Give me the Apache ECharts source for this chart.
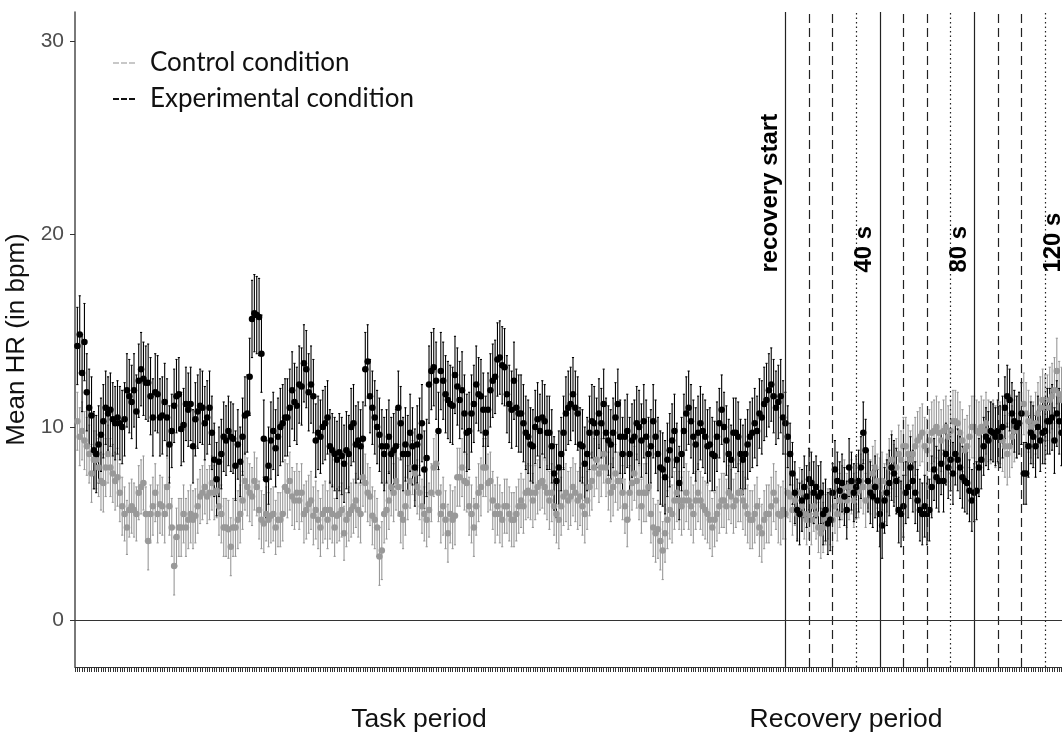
<!DOCTYPE html>
<html><head><meta charset="utf-8">
<script src="https://cdn.jsdelivr.net/npm/echarts@6/dist/echarts.min.js"></script>
<style>html,body{margin:0;padding:0;background:#fff}#c{width:1062px;height:738px}</style>
</head><body><div id="c"></div>
<script>
// Mean HR per second (index 0..299 task period, 300.. recovery period)
const expMean = [
14.2,14.8,12.8,14.4,11.8,11.0,10.6,8.8,8.6,9.1,
9.6,10.3,11.0,10.7,10.9,10.4,10.2,10.5,10.2,10.0,
10.4,11.9,11.6,11.3,11.9,10.8,12.4,13.0,12.5,12.3,
12.3,11.6,10.5,11.8,11.7,10.5,10.6,11.3,10.5,9.1,
9.8,11.1,11.6,11.7,9.9,10.1,11.2,10.9,11.2,9.0,
10.4,10.8,11.1,11.0,10.2,10.5,11.0,9.7,8.3,7.3,
8.2,8.6,9.5,9.3,9.8,9.5,9.4,8.0,9.1,8.2,
9.5,10.6,10.7,12.6,15.6,15.9,15.8,15.7,13.8,9.4,
7.3,8.0,9.3,9.8,8.9,9.5,10.0,10.2,10.5,10.5,
11.0,11.9,11.3,11.1,12.2,12.1,13.3,13.0,11.8,12.2,
11.6,9.3,9.7,9.5,10.0,10.2,10.5,9.0,8.8,8.6,
8.3,8.7,8.5,8.1,8.8,8.6,10.0,10.2,9.1,9.3,
9.0,9.4,13.0,13.4,11.6,11.0,10.5,10.0,9.6,9.0,
8.6,9.0,9.5,8.6,8.8,9.0,11.0,10.2,8.6,9.1,
8.6,9.7,9.0,7.9,9.1,9.5,10.2,7.8,8.4,12.2,
12.9,13.1,12.4,9.8,12.9,12.4,11.7,11.4,11.2,11.1,
12.7,12.1,11.4,11.9,10.7,9.7,9.8,10.7,11.2,12.2,
11.7,11.6,10.9,9.7,10.9,11.9,12.4,12.6,13.5,13.6,
13.2,13.1,11.7,11.2,10.9,12.4,11.0,10.7,10.7,10.2,
9.7,9.5,9.1,9.0,10.0,10.4,9.8,10.5,10.3,9.7,
9.7,9.0,7.6,7.2,7.9,8.6,9.7,10.7,11.0,11.2,
11.7,11.0,10.7,9.1,9.0,8.1,8.6,9.7,10.3,10.2,
9.7,10.7,10.2,11.2,9.7,9.3,9.1,9.7,10.5,11.2,
9.5,8.6,9.5,9.8,8.6,9.3,9.5,10.2,10.0,9.3,
10.3,9.5,8.6,9.0,10.3,9.5,8.6,7.9,7.8,7.4,
8.3,8.8,9.3,9.8,8.3,7.1,8.6,9.8,10.7,11.0,
10.3,9.5,9.1,9.7,10.2,9.8,9.5,9.0,9.1,8.6,
8.5,9.5,10.2,10.9,10.0,9.3,8.6,8.3,9.7,9.7,
9.5,8.6,8.3,8.6,9.1,9.5,9.7,10.2,9.8,10.7,
10.5,11.2,11.4,11.9,12.2,11.6,11.0,11.3,11.6,10.5,
10.2,9.5,8.6,7.6,6.6,5.7,5.5,6.2,6.9,6.4,
7.3,7.1,6.6,6.9,6.4,6.6,5.5,5.7,5.0,5.2,
6.6,7.8,7.2,6.7,7.1,6.4,5.7,7.9,7.2,6.6,
6.9,7.2,7.9,9.7,8.8,7.2,6.6,6.4,6.9,6.2,
5.5,4.9,6.2,6.6,7.1,7.9,7.6,7.2,5.7,5.5,
5.9,6.6,6.9,7.9,7.2,6.6,6.2,5.7,5.5,5.9,
5.5,5.7,6.9,7.8,7.4,7.2,8.1,7.2,8.6,7.9,
8.3,7.6,8.6,8.3,7.9,7.4,7.2,7.1,6.7,6.2,
6.6,6.7,7.9,8.3,9.0,9.5,9.3,9.8,9.7,9.5,
9.8,9.5,10.0,11.0,11.6,11.4,10.7,10.3,10.0,10.2,
10.7,7.6,7.6,9.0,9.7,9.5,9.0,10.0,9.3,9.7,
9.8,10.3,10.3,10.5,9.3,10.7,10.3,9.7,10.7
];
const ctrlMean = [
10.3,9.5,9.8,9.3,9.0,8.6,7.6,8.3,8.3,7.9,
7.2,7.1,7.9,8.6,7.9,7.6,7.2,7.4,6.6,5.9,
5.5,4.8,5.7,5.9,5.7,5.5,6.6,6.9,7.1,5.5,
4.1,5.5,5.9,6.6,5.5,6.0,5.9,5.5,6.9,5.9,
4.8,2.8,4.3,4.8,4.8,5.5,4.8,5.2,5.5,5.2,
5.4,5.9,6.4,6.6,6.9,6.4,6.6,7.1,6.6,6.7,
5.9,5.5,4.8,4.8,4.7,3.8,4.8,4.8,5.2,5.5,
6.2,7.2,6.9,6.6,6.4,7.2,6.9,5.7,5.2,5.0,
5.5,5.2,5.4,5.5,4.8,5.2,5.2,5.5,6.9,6.7,
7.2,6.4,6.2,6.6,6.2,6.6,5.5,5.7,6.0,6.2,
5.4,5.7,5.2,4.8,5.5,5.7,5.2,5.7,5.5,4.8,
5.4,5.5,5.7,4.5,5.2,5.5,5.7,5.9,6.2,5.7,
5.5,7.4,7.1,6.6,6.4,5.4,5.2,4.8,3.3,3.6,
5.5,5.7,6.2,6.9,6.6,7.2,6.9,5.5,5.2,5.9,
6.6,7.2,7.9,7.6,6.9,6.6,5.9,5.5,5.2,5.7,
6.6,7.9,8.1,6.6,5.5,5.9,5.2,4.5,5.5,5.2,
5.4,7.4,7.4,7.9,7.2,7.1,5.9,5.5,4.8,5.9,
6.6,6.9,7.9,7.9,7.1,7.2,6.2,5.5,5.9,5.5,
5.2,5.9,5.9,5.5,5.2,5.2,5.5,5.9,6.2,5.9,
6.6,6.7,6.6,6.2,6.6,6.9,7.1,7.2,6.9,6.6,
6.2,6.6,5.9,5.5,5.2,5.9,6.4,6.6,6.2,6.4,
6.9,6.6,6.2,6.4,5.9,5.5,6.2,6.9,7.2,7.9,
8.3,7.6,7.9,8.6,7.9,7.2,6.6,6.9,7.6,7.2,
7.2,6.6,5.9,5.2,6.6,7.1,7.6,7.2,6.6,5.9,
6.6,6.6,6.9,5.5,4.8,4.5,4.7,4.1,3.6,4.5,
5.2,5.7,5.5,6.2,6.6,6.2,5.9,6.2,6.6,6.2,
5.9,5.5,6.2,6.6,6.2,5.9,5.7,5.5,5.2,4.8,
5.2,5.5,5.9,6.2,6.2,5.9,6.6,6.4,5.9,6.2,
6.6,6.6,6.2,5.9,5.5,5.2,5.2,5.5,5.9,4.8,
4.5,5.2,5.5,5.5,5.9,6.6,6.2,5.5,5.4,5.7,
5.5,6.6,6.4,5.7,6.2,5.5,6.6,5.9,5.5,5.2,
5.5,5.2,5.9,5.5,4.8,4.5,4.8,5.2,5.5,5.2,
5.2,5.9,5.5,6.2,6.6,6.9,6.2,6.6,6.9,6.2,
6.6,6.7,7.2,6.9,6.2,7.2,6.9,7.6,7.9,7.2,
6.9,7.2,6.6,7.1,7.9,8.3,7.6,7.9,8.6,8.3,
9.0,9.0,8.6,8.3,8.6,9.0,9.3,9.5,9.7,9.0,
8.8,9.3,9.7,9.8,10.0,9.7,9.3,9.8,10.0,9.5,
9.8,10.3,10.3,10.2,9.7,9.3,8.8,9.0,9.5,10.0,
10.0,9.8,9.7,10.0,9.8,10.2,9.8,9.7,9.8,9.5,
9.7,9.7,9.3,9.0,8.6,9.0,9.5,9.8,10.0,10.2,
10.7,11.2,10.7,10.3,10.0,9.7,10.2,10.7,11.0,11.4,
11.0,11.0,11.4,11.6,11.9,12.9,11.7,11.4,11.6
];
// error-bar half widths, one per 10-second block
const expErrBlock = [2.0,1.9,1.9,2.0,1.9,1.9,1.8,2.0,2.0,2.0,1.9,2.0,1.9,1.9,2.0,2.0,2.0,1.9,2.0,1.9,1.9,1.9,1.8,1.9,1.9,1.9,1.9,1.8,1.8,1.9,1.6,1.6,1.5,1.6,1.7,1.6,1.6,1.6,1.5,1.6,1.6,1.7];
const ctrlErrBlock = [1.5,1.5,1.4,1.5,1.5,1.4,1.5,1.5,1.4,1.5,1.5,1.4,1.5,1.5,1.4,1.5,1.5,1.5,1.4,1.4,1.5,1.5,1.5,1.4,1.5,1.5,1.5,1.4,1.5,1.5,1.3,1.3,1.4,1.4,1.5,1.5,1.6,1.6,1.6,1.6,1.6,1.7];

const seriesNames = ['Control condition', 'Experimental condition'];
const yTicks = [0, 10, 20, 30];
const solidLines = [300, 340, 380, 420];
const dashedLines = [310, 320, 350, 360, 390, 400];
const dottedLines = [330, 370, 410];
const lineLabels = ['recovery start', '40 s', '80 s', '120 s'];
const lineLabelY = 18;
const periodLabels = ['Task period', 'Recovery period'];

function pts(mean) { return mean.map((m, i) => [i, m]); }
function errs(mean, eb) { return mean.map((m, i) => { const e = eb[Math.floor(i / 10)]; return [i, m - e, m + e]; }); }

function errRender(color) {
  return function (params, api) {
    const x = api.value(0), lo = api.value(1), hi = api.value(2);
    const a = api.coord([x, hi]), b = api.coord([x, lo]);
    const hw = api.size([1, 0])[0] * 0.45;
    const st = { stroke: color, lineWidth: 1.1, fill: null };
    return { type: 'group', children: [
      { type: 'line', shape: { x1: a[0], y1: a[1], x2: b[0], y2: b[1] }, style: st },
      { type: 'line', shape: { x1: a[0] - hw, y1: a[1], x2: a[0] + hw, y2: a[1] }, style: st },
      { type: 'line', shape: { x1: b[0] - hw, y1: b[1], x2: b[0] + hw, y2: b[1] }, style: st }
    ]};
  };
}

const dashIcon = 'path://M0,0H6V2H0Z M8,0H14V2H8Z M16,0H22V2H16Z';
const vLines = [];
solidLines.forEach(v => vLines.push({ xAxis: v, lineStyle: { type: 'solid', color: '#222', width: 1.2 } }));
dashedLines.forEach(v => vLines.push({ xAxis: v, lineStyle: { type: [9, 5], color: '#222', width: 1.2 } }));
dottedLines.forEach(v => vLines.push({ xAxis: v, lineStyle: { type: [1.5, 3], color: '#222', width: 1.2 } }));
vLines.push({ yAxis: 0, lineStyle: { type: 'solid', color: '#333', width: 1.2 } });

const chart = echarts.init(document.getElementById('c'), null, { renderer: 'canvas' });
chart.setOption({
  animation: false,
  backgroundColor: '#fff',
  grid: { left: 75, right: 0, top: 12, bottom: 71, containLabel: false, outerBoundsMode: 'none' },
  xAxis: {
    type: 'value', min: -1, max: 417.2, interval: 1,
    axisLine: { show: true, onZero: false, lineStyle: { color: '#333', width: 1.2 } },
    axisTick: { show: true, length: 5, lineStyle: { color: '#333', width: 1 } },
    axisLabel: { show: false }, splitLine: { show: false }
  },
  yAxis: {
    type: 'value', min: -2.43, max: 31.5,
    axisLine: { show: true, onZero: false, lineStyle: { color: '#4d4d4d', width: 1.5 } },
    axisTick: { show: true, length: 5, customValues: yTicks, lineStyle: { color: '#333' } },
    axisLabel: { customValues: yTicks, color: '#4d4d4d', fontSize: 21, fontFamily: 'Liberation Sans', margin: 11 },
    splitLine: { show: false },
    name: 'Mean HR (in bpm)', nameLocation: 'middle', nameGap: 41, nameRotate: 90,
    nameTextStyle: { fontSize: 26, color: '#111', fontFamily: 'Liberation Sans' }
  },
  legend: {
    left: 113, top: 50, orient: 'vertical', padding: 0, itemGap: 10,
    itemWidth: 22, itemHeight: 2,
    textStyle: { fontFamily: 'Lato', fontSize: 26, color: '#111', lineHeight: 26, padding: [0, 0, 0, 10] },
    data: [
      { name: seriesNames[0], icon: dashIcon, itemStyle: { color: '#c8c8c8' } },
      { name: seriesNames[1], icon: dashIcon, itemStyle: { color: '#111' } }
    ]
  },
  graphic: [
    { type: 'text', x: 419, y: 720, style: { text: periodLabels[0], font: '26.5px "Liberation Sans"', fill: '#111', align: 'center', verticalAlign: 'middle' } },
    { type: 'text', x: 846, y: 720, style: { text: periodLabels[1], font: '26.5px "Liberation Sans"', fill: '#111', align: 'center', verticalAlign: 'middle' } }
  ],
  series: [
    { type: 'custom', name: 'ctrlErr', silent: true, data: errs(ctrlMean, ctrlErrBlock), encode: { x: 0, y: [1, 2] }, renderItem: errRender('#999'), z: 1 },
    { type: 'custom', name: 'expErr', silent: true, data: errs(expMean, expErrBlock), encode: { x: 0, y: [1, 2] }, renderItem: errRender('#000'), z: 2 },
    { type: 'scatter', name: seriesNames[0], data: pts(ctrlMean), symbolSize: 6.5, itemStyle: { color: '#999', opacity: 1 }, z: 3, silent: true },
    { type: 'scatter', name: seriesNames[1], data: pts(expMean), symbolSize: 6.5, itemStyle: { color: '#000', opacity: 1 }, z: 4, silent: true },
    { type: 'line', name: 'refLines', data: [], z: 5, silent: true,
      markLine: { silent: true, symbol: ['none', 'none'], label: { show: false }, animation: false, data: vLines } },
    { type: 'custom', name: 'lineLabels', silent: true, z: 6, clip: false,
      data: solidLines.map(v => [v, lineLabelY]), encode: { x: 0, y: 1 },
      renderItem: function (params, api) {
        const p = api.coord([api.value(0), api.value(1)]);
        return { type: 'text', x: p[0] - 3, y: p[1], rotation: Math.PI / 2,
          style: { text: lineLabels[params.dataIndex], fill: '#000', font: 'bold 24px "Liberation Sans"', align: 'left', verticalAlign: 'bottom' } };
      } }
  ]
});
</script></body></html>
